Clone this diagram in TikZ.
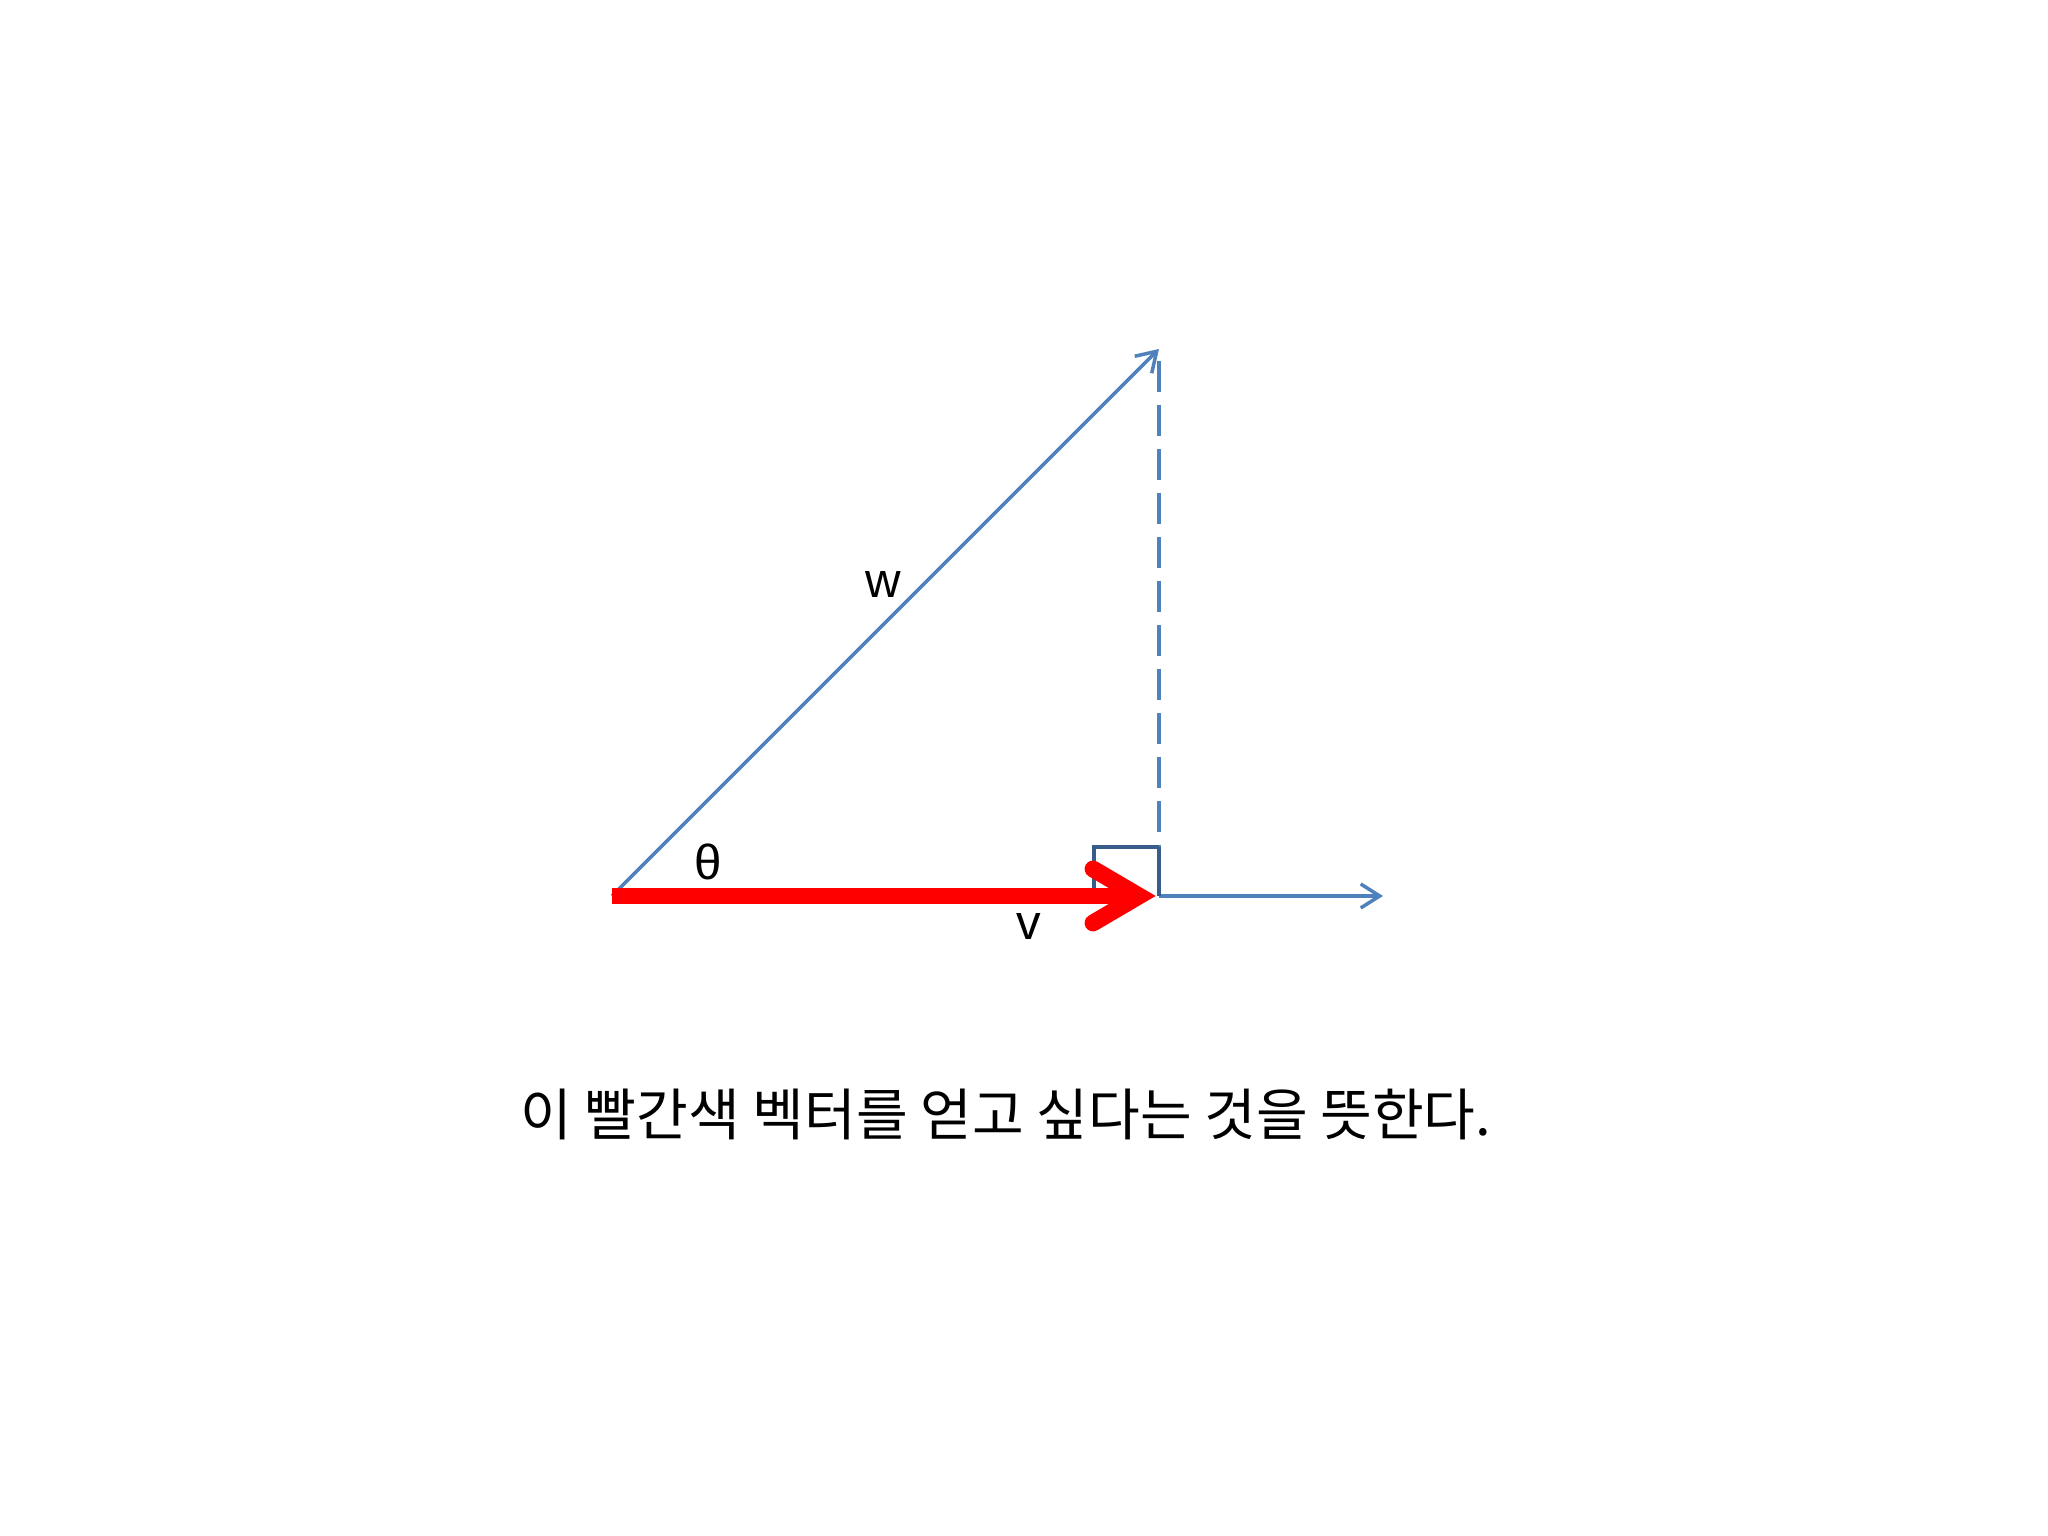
\documentclass[tikz,border=0pt]{standalone}
\usepackage{fontspec}
\setmainfont{Liberation Sans}
\newfontfamily\krfont{Noto Sans CJK KR}
\usetikzlibrary{calc,arrows.meta}
\definecolor{vecblue}{HTML}{4F81BD}
\definecolor{boxblue}{HTML}{385D8A}
\definecolor{vred}{HTML}{FF0000}
\tikzset{
  vec/.style={draw=vecblue, line width=1pt, -{Straight Barb[length=1.9mm, width=2.4mm]}},
  help/.style={draw=vecblue, line width=1pt, dash pattern=on 3.1mm off 1.3mm},
  rbox/.style={draw=boxblue, line width=1pt},
  redvec/.style={draw=vred, line width=4.8pt},
  redhead/.style={draw=vred, line width=4.8pt, line cap=round, line join=miter},
  lab/.style={text=black, font=\fontsize{14}{16}\selectfont, inner sep=0pt},
  caption/.style={text=black, font=\krfont\fontsize{16}{19}\selectfont, inner sep=0pt}
}
\begin{document}
\begin{tikzpicture}
  \useasboundingbox (0,0) rectangle (20.48,15.36);
  \coordinate (O) at (6.12,6.40);
  \coordinate (W) at (11.59,11.87);
  \coordinate (V) at (11.59,6.40);
  \coordinate (X) at (13.83,6.40);
  \coordinate (Q) at (10.94,6.89);
  % blue vectors
  \draw[vec] (O) -- (W);
  \draw[vec] (V) -- (X);
  \draw[help] ($(W)+(0,-0.12)$) -- (V |- Q);
  \draw[rbox] (V |- Q) -- (Q) -- (Q |- V);
  \draw[rbox] (V) -- (V |- Q);
  % red vector
  \draw[redvec] (O) -- ($(V)+(-0.2,0)$);
  \draw[redhead] ($(V)+(-0.66,0.27)$) -- ($(V)+(-0.20,0)$) -- ($(V)+(-0.66,-0.27)$);
  % labels
  \node[lab] (w) at (8.83,9.51) {w};
  \node[lab] (theta) at (7.08,6.74) {θ};
  \node[lab] (v) at (10.29,6.09) {v};
  \node[caption] (cap) at (10.06,4.22) {이 빨간색 벡터를 얻고 싶다는 것을 뜻한다.};
\end{tikzpicture}
\end{document}
